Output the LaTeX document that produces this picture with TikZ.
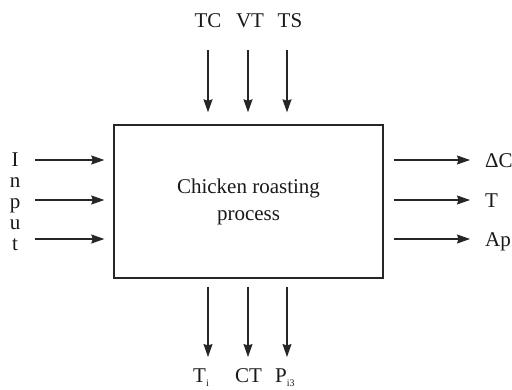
\documentclass[tikz,border=0pt]{standalone}
\usepackage{fontspec}
\setmainfont{Liberation Serif}
\usetikzlibrary{arrows.meta}
\newcommand{\lowsub}[1]{\raisebox{-4.5pt}{\fontsize{10}{10}\selectfont #1}}
\tikzset{
	flow/.style={-{Stealth[length=13pt,width=9pt,inset=1.5pt]}, line width=1.2pt, black!85},
	lbl/.style={font=\fontsize{21}{21}\selectfont, inner sep=0pt, text=black!90}
}
\begin{document}
\begin{tikzpicture}[x=1pt,y=-1pt]
		\useasboundingbox (0,0) rectangle (512,390);
		%process box
		\node[draw, line width=1.4pt, black!85, text=black!90, minimum width=269pt, minimum height=153pt,
			align=center, font=\fontsize{21}{27}\selectfont] (box) at (248.5,201.5) {Chicken roasting\\process};
		
		%top arrows
		\coordinate (tcA) at (208,50);
		\coordinate (vtA) at (248,50);
		\coordinate (tsA) at (287,50);
		\draw[flow, shorten >=12pt] (tcA) -- (tcA |- box.north);
		\draw[flow, shorten >=12pt] (vtA) -- (vtA |- box.north);
		\draw[flow, shorten >=12pt] (tsA) -- (tsA |- box.north);
		
		%bottom arrows
		\coordinate (tiA) at (208,357);
		\coordinate (ctA) at (248,357);
		\coordinate (piA) at (287,357);
		\draw[flow, shorten <=8pt] (tiA |- box.south) -- (tiA);
		\draw[flow, shorten <=8pt] (ctA |- box.south) -- (ctA);
		\draw[flow, shorten <=8pt] (piA |- box.south) -- (piA);
		
		%input arrows
		\coordinate (inA) at (35,160);
		\coordinate (inB) at (35,200);
		\coordinate (inC) at (35,239);
		\draw[flow, shorten >=9pt] (inA) -- (inA -| box.west);
		\draw[flow, shorten >=9pt] (inB) -- (inB -| box.west);
		\draw[flow, shorten >=9pt] (inC) -- (inC -| box.west);
		
		%output arrows
		\coordinate (outA) at (470,160);
		\coordinate (outB) at (470,200);
		\coordinate (outC) at (470,239);
		\draw[flow, shorten <=10pt] (outA -| box.east) -- (outA);
		\draw[flow, shorten <=10pt] (outB -| box.east) -- (outB);
		\draw[flow, shorten <=10pt] (outC -| box.east) -- (outC);
		
		%nodes
		\node[lbl, anchor=base] (tc) at (208,28) {TC};
		\node[lbl, anchor=base] (vt) at (250,28) {VT};
		\node[lbl, anchor=base] (ts) at (290,28) {TS};
		\node[lbl, anchor=base west] (ti) at (193,382) {T\lowsub{i}};
		\node[lbl, anchor=base] (ct) at (248.5,382) {CT};
		\node[lbl, anchor=base west] (pi) at (275,382) {P\lowsub{i3}};
		\node[lbl, anchor=north, align=center] (input) at (15,153) {I\\n\\p\\u\\t};
		\node[lbl, anchor=base west] (dc) at (485,167.5) {ΔC};
		\node[lbl, anchor=base west] (tt) at (485,207.5) {T};
		\node[lbl, anchor=base west] (ap) at (485,246.5) {Ap};
	\end{tikzpicture}
\end{document}
